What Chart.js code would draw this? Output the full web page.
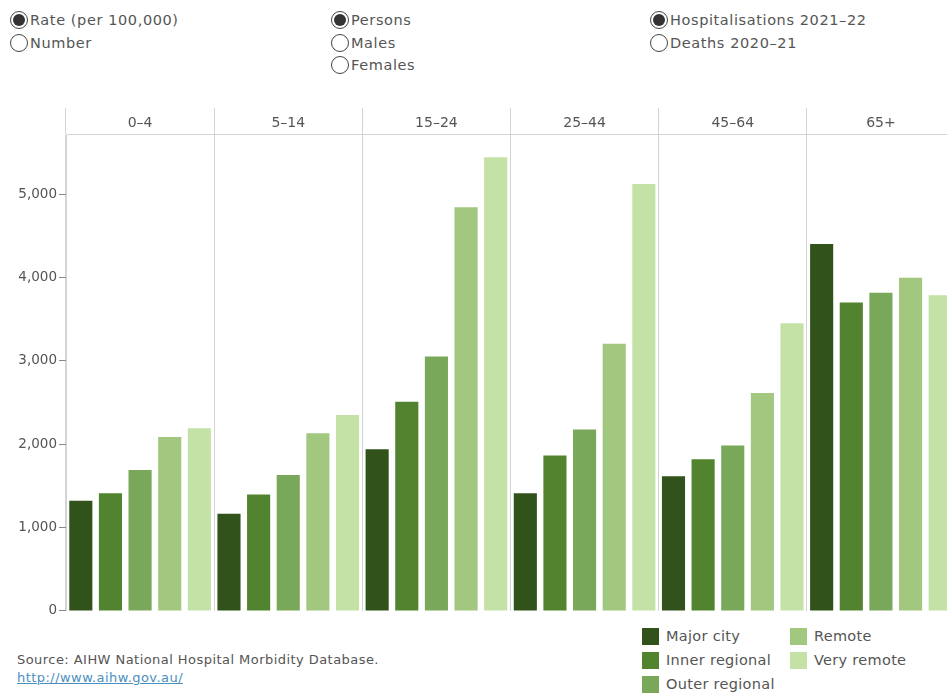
<!DOCTYPE html>
<html>
<head>
<meta charset="utf-8">
<script src="https://cdn.jsdelivr.net/npm/chart.js@4"></script>
<style>
    body { margin: 0; width: 947px; height: 693px; overflow: hidden; background: #fff; font-family: "DejaVu Sans", sans-serif; color: #555; position: relative; }
    .radio { position: absolute; font-size: 14.5px; line-height: 22.5px; letter-spacing: 0.6px; }
    .opt { display: flex; align-items: center; height: 22.5px; }
    .dot { width: 18px; height: 18px; border: 1px solid #444; border-radius: 50%; box-sizing: border-box; margin-right: 2px; position: relative; }
    .dot.on::after { content: ""; position: absolute; left: 2px; top: 2px; width: 12px; height: 12px; border-radius: 50%; background: #333; }
    #wrap { position: absolute; left: 0; top: 95px; width: 960px; height: 526px; }
    #legend { position: absolute; left: 642px; top: 626px; width: 300px; font-size: 14.5px; letter-spacing: 0.3px; }
    .item { position: absolute; display: flex; align-items: center; height: 20px; }
    .sw { width: 17px; height: 17px; margin-right: 7px; }
    #source { position: absolute; left: 17px; top: 651px; font-size: 13px; line-height: 18px; letter-spacing: 0.45px; }
    #source a { color: #4b8fbf; }
</style>
</head>
<body>
<div class="radio" style="left:10px;top:9px">
    <div class="opt"><span class="dot on"></span>Rate (per 100,000)</div>
    <div class="opt"><span class="dot"></span>Number</div>
</div>
<div class="radio" style="left:331px;top:9px">
    <div class="opt"><span class="dot on"></span>Persons</div>
    <div class="opt"><span class="dot"></span>Males</div>
    <div class="opt"><span class="dot"></span>Females</div>
</div>
<div class="radio" style="left:650px;top:9px">
    <div class="opt"><span class="dot on"></span>Hospitalisations 2021–22</div>
    <div class="opt"><span class="dot"></span>Deaths 2020–21</div>
</div>
<div id="wrap"><canvas id="chart" width="960" height="526"></canvas></div>
<div id="legend"></div>
<div id="source">Source: AIHW National Hospital Morbidity Database.<br><a href="http://www.aihw.gov.au/">http://www.aihw.gov.au/</a></div>
<script>
const ageGroups = ['0–4', '5–14', '15–24', '25–44', '45–64', '65+'];
const regions = ['Major city', 'Inner regional', 'Outer regional', 'Remote', 'Very remote'];
const regionColors = ['#31531b', '#52832f', '#7aa85a', '#a2c77e', '#c4e2a6'];
const yTicks = [0, 1000, 2000, 3000, 4000, 5000];

// rate per 100,000, one array per remoteness area (in age group order)
const majorCity = [1320, 1165, 1940, 1410, 1615, 4400];
const innerRegional = [1410, 1395, 2510, 1865, 1820, 3700];
const outerRegional = [1690, 1630, 3050, 2175, 1985, 3815];
const remote = [2085, 2130, 4840, 3205, 2615, 3995];
const veryRemote = [2190, 2350, 5440, 5120, 3450, 3785];

const values = [majorCity, innerRegional, outerRegional, remote, veryRemote];

const datasets = regions.map((name, i) => ({
    label: name,
    data: values[i],
    backgroundColor: regionColors[i],
    categoryPercentage: 1.0,
    barPercentage: 0.78,
}));

// legend (two columns)
const legend = document.getElementById('legend');
regions.forEach((name, i) => {
    const col = i < 3 ? 0 : 1;
    const row = i < 3 ? i : i - 3;
    const el = document.createElement('div');
    el.className = 'item';
    el.style.left = (col * 148) + 'px';
    el.style.top = (row * 24) + 'px';
    el.innerHTML = '<span class="sw" style="background:' + regionColors[i] + '"></span>' + name;
    legend.appendChild(el);
});

new Chart(document.getElementById('chart'), {
    type: 'bar',
    data: { labels: ageGroups, datasets: datasets },
    options: {
        responsive: false,
        animation: false,
        layout: { padding: { top: 13, right: 5, bottom: 5, left: 0 } },
        plugins: { legend: { display: false }, tooltip: { enabled: false } },
        scales: {
            x: {
                position: 'top',
                grid: { offset: true, color: '#d4d4d4', tickLength: 26 },
                border: { display: true, color: '#d4d4d4' },
                ticks: { color: '#555', padding: -24, font: { family: 'DejaVu Sans', size: 14 } },
                afterFit: (scale) => { scale.height = 26; },
            },
            y: {
                min: 0,
                max: 5720,
                grid: { drawOnChartArea: false, color: '#888', tickLength: 7 },
                border: { display: true, color: '#d4d4d4' },
                ticks: {
                    autoSkip: false,
                    color: '#555',
                    padding: 2,
                    font: { family: 'DejaVu Sans', size: 13.5 },
                    callback: (v) => v.toLocaleString('en-US'),
                },
                afterBuildTicks: (scale) => { scale.ticks = yTicks.map(v => ({ value: v })); },
                afterFit: (scale) => { scale.width = 66; },
            },
        },
    },
});
</script>
</body>
</html>
